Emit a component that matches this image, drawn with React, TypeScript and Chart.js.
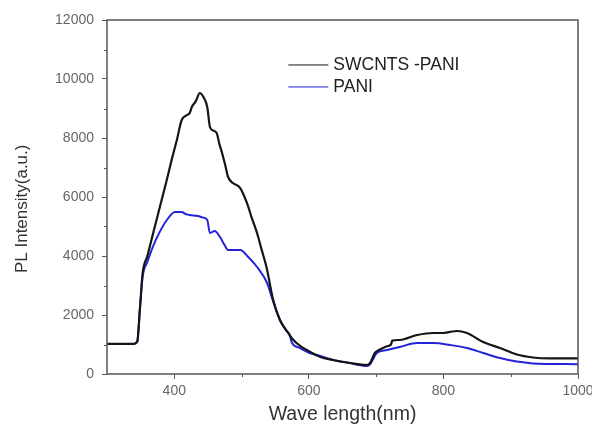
import React, { useEffect, useRef } from "react";
import { Chart, registerables } from "chart.js";

Chart.register(...registerables);

const seriesNames = ["SWCNTS -PANI", "PANI"];
const seriesColors = ["#151515", "#2323d8"];

const swcntWave = [300, 340, 345, 349, 353, 360, 370, 379, 388, 396, 404, 411, 419, 423, 426, 432, 438, 443, 449, 453, 458, 463, 467, 471, 476, 480, 487, 498, 508, 515, 523, 530, 537, 547, 557, 566, 576, 587, 597, 617, 636, 661, 686, 691, 698, 705, 716, 722, 724, 735, 761, 785, 799, 810, 820, 835, 859, 884, 909, 933, 958, 1000];
const swcntValues = [1020, 1020, 1100, 2237, 3424, 4000, 4900, 5700, 6500, 7250, 7950, 8611, 8780, 8850, 9051, 9250, 9526, 9400, 9051, 8373, 8250, 8170, 7800, 7492, 7050, 6678, 6475, 6305, 5797, 5300, 4780, 4200, 3627, 2508, 1830, 1500, 1180, 950, 814, 576, 475, 373, 305, 373, 712, 820, 940, 1000, 1130, 1153, 1322, 1390, 1390, 1430, 1458, 1390, 1085, 881, 660, 560, 530, 530];

const paniWave = [300, 340, 345, 349, 353, 360, 368, 378, 389, 401, 411, 417, 423, 435, 443, 449, 453, 460, 468, 474, 480, 490, 498, 510, 523, 538, 547, 557, 566, 571, 575, 587, 600, 612, 636, 661, 686, 691, 701, 716, 735, 761, 785, 810, 835, 859, 884, 909, 933, 1000];
const paniValues = [1020, 1020, 1100, 2237, 3300, 3800, 4305, 4800, 5220, 5492, 5492, 5420, 5390, 5356, 5300, 5220, 4780, 4848, 4644, 4400, 4204, 4204, 4204, 3966, 3627, 3085, 2450, 1830, 1480, 1350, 1050, 880, 720, 644, 475, 373, 270, 330, 712, 814, 915, 1051, 1051, 983, 881, 712, 542, 420, 360, 330];

const xMajorTicks = [400, 600, 800, 1000];
const xMinorTicks = [500, 700, 900];
const yMajorTicks = [0, 2000, 4000, 6000, 8000, 10000, 12000];
const yMinorTicks = [1000, 3000, 5000, 7000, 9000, 11000];

const xTitle = "Wave length(nm)";
const yTitle = "PL Intensity(a.u.)";

const axisColor = "#555";
const fontFamily = "'Liberation Sans', Arial, sans-serif";
const tickFont = { family: fontFamily, size: 14 };

const framePlugin = {
  id: "frame",
  afterDraw(chart: any) {
    const { ctx, chartArea } = chart;
    ctx.save();
    ctx.strokeStyle = axisColor;
    ctx.lineWidth = 1.5;
    ctx.strokeRect(chartArea.left, chartArea.top, chartArea.right - chartArea.left, chartArea.bottom - chartArea.top);
    const xs = chart.scales.x;
    const ys = chart.scales.y;
    ctx.lineWidth = 1;
    ctx.beginPath();
    xMinorTicks.forEach((v) => {
      const px = Math.round(xs.getPixelForValue(v)) + 0.5;
      ctx.moveTo(px, chartArea.bottom);
      ctx.lineTo(px, chartArea.bottom + 3);
    });
    yMinorTicks.forEach((v) => {
      const py = Math.round(ys.getPixelForValue(v)) + 0.5;
      ctx.moveTo(chartArea.left, py);
      ctx.lineTo(chartArea.left - 3, py);
    });
    ctx.stroke();
    ctx.restore();
  },
};

const legendPlugin = {
  id: "customLegend",
  afterDraw(chart: any) {
    const { ctx, chartArea } = chart;
    const w = chartArea.right - chartArea.left;
    const h = chartArea.bottom - chartArea.top;
    const x0 = chartArea.left + w * 0.385;
    const y0 = chartArea.top + h * 0.127;
    const gap = 22;
    ctx.save();
    ctx.font = `17.5px ${fontFamily}`;
    ctx.textBaseline = "middle";
    chart.data.datasets.forEach((ds: any, i: number) => {
      const y = y0 + i * gap;
      ctx.strokeStyle = ds.borderColor;
      ctx.lineWidth = 1;
      ctx.beginPath();
      ctx.moveTo(x0, y);
      ctx.lineTo(x0 + 40, y);
      ctx.stroke();
      ctx.fillStyle = "#222";
      ctx.fillText(ds.label, x0 + 45, y);
    });
    ctx.restore();
  },
};

export default function App() {
  const canvasRef = useRef<HTMLCanvasElement | null>(null);

  useEffect(() => {
    if (!canvasRef.current) return;
    const chart = new Chart(canvasRef.current, {
      type: "line",
      data: {
        datasets: [
          {
            label: seriesNames[0],
            data: swcntWave.map((x, i) => ({ x, y: swcntValues[i] })),
            borderColor: seriesColors[0],
            borderWidth: 2.2,
            pointRadius: 0,
            cubicInterpolationMode: "monotone",
          },
          {
            label: seriesNames[1],
            data: paniWave.map((x, i) => ({ x, y: paniValues[i] })),
            borderColor: seriesColors[1],
            borderWidth: 2,
            pointRadius: 0,
            cubicInterpolationMode: "monotone",
          },
        ],
      },
      options: {
        animation: false,
        responsive: false,
        devicePixelRatio: 1,
        layout: { padding: { top: 20, right: 14, left: 0, bottom: 0 } },
        plugins: { legend: { display: false }, tooltip: { enabled: false } },
        scales: {
          x: {
            type: "linear",
            min: 300,
            max: 1000,
            afterBuildTicks: (scale: any) => {
              scale.ticks = xMajorTicks.map((v) => ({ value: v }));
            },
            afterFit: (scale: any) => {
              scale.height = 52;
              scale.paddingLeft = 0;
              scale.paddingRight = 0;
            },
            ticks: { color: "#666", font: tickFont, padding: 4, maxRotation: 0, callback: (v: any) => String(v) },
            grid: { display: true, drawOnChartArea: false, drawTicks: true, tickLength: 5, color: axisColor },
            border: { display: false },
            title: {
              display: true,
              text: xTitle,
              color: "#333",
              font: { family: fontFamily, size: 19.5 },
              padding: { top: 0, bottom: 0 },
            },
          },
          y: {
            type: "linear",
            min: 0,
            max: 12000,
            afterBuildTicks: (scale: any) => {
              scale.ticks = yMajorTicks.map((v) => ({ value: v }));
            },
            afterFit: (scale: any) => {
              scale.width = 107;
              scale.paddingTop = 0;
              scale.paddingBottom = 0;
            },
            ticks: { color: "#666", font: tickFont, padding: 8, callback: (v: any) => String(v) },
            grid: { display: true, drawOnChartArea: false, drawTicks: true, tickLength: 5, color: axisColor },
            border: { display: false },
            title: {
              display: true,
              text: yTitle + "     ",
              color: "#333",
              font: { family: fontFamily, size: 17 },
              padding: { top: 12, bottom: 0 },
            },
          },
        },
      },
      plugins: [framePlugin, legendPlugin],
    });
    return () => chart.destroy();
  }, []);

  return (
    <div style={{ position: "fixed", left: 0, top: 0, width: 592, height: 426, background: "#fff" }}>
      <canvas ref={canvasRef} width={592} height={426} />
    </div>
  );
}
